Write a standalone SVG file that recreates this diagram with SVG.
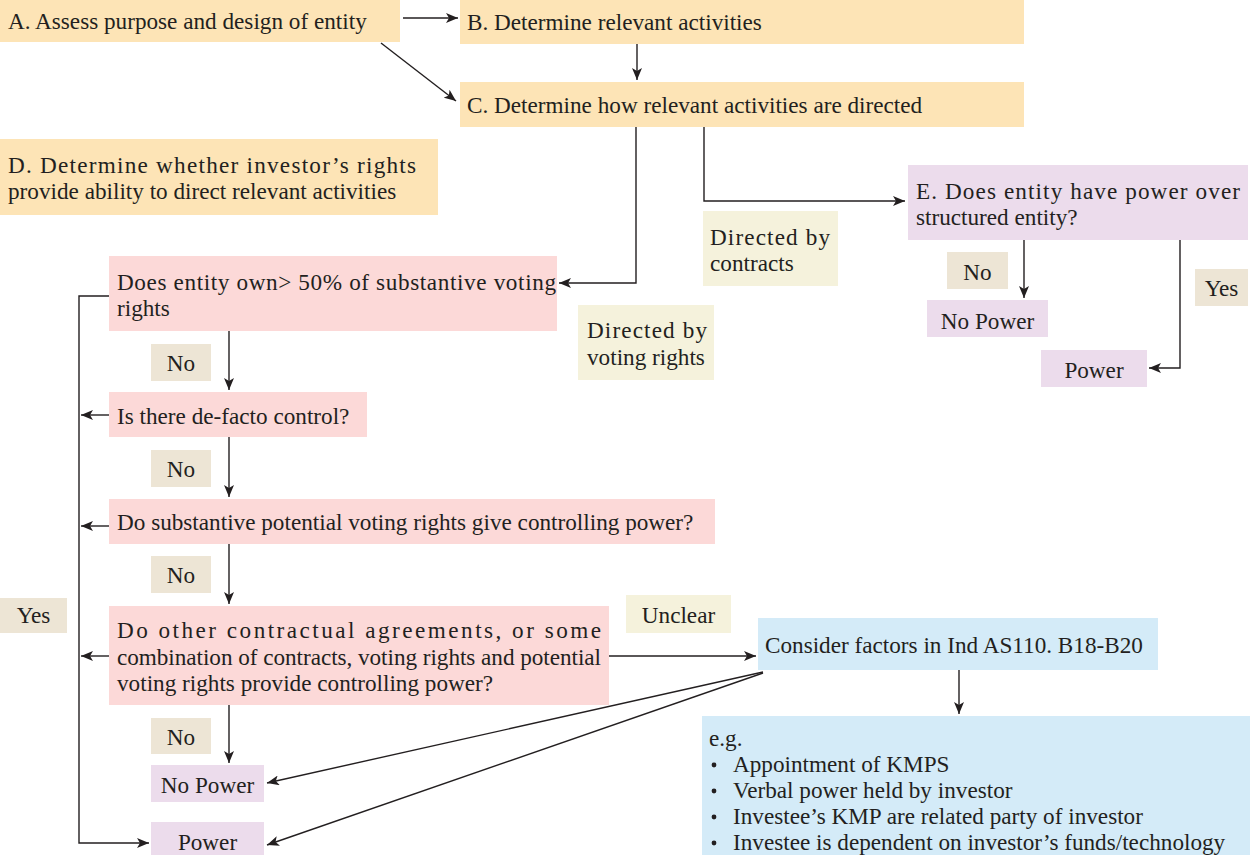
<svg xmlns="http://www.w3.org/2000/svg" width="1250" height="855" viewBox="0 0 1250 855">
<defs>
<marker id="ah" viewBox="0 0 12 10" refX="12" refY="5" markerWidth="12" markerHeight="10" markerUnits="userSpaceOnUse" orient="auto">
<path d="M0,0 L12,5 L0,10 L3,5 z" fill="#231f20"/>
</marker>
<style>
text{font-family:"Liberation Serif",serif;font-size:23.2px;fill:#231f20}
.or{fill:#fde4b6}.pk{fill:#fcd9d8}.pu{fill:#ecdcec}.yl{fill:#f5f2dc}.bg{fill:#ede5d5}.bl{fill:#d4ebf8}
.c path,.c line,.c polyline{stroke:#231f20;stroke-width:1.4;fill:none;marker-end:url(#ah)}
</style>
</defs>
<rect width="1250" height="855" fill="#fff"/>
<g id="nodeA"><rect class="or" x="0" y="0" width="400" height="42"/><text x="8" y="29">A. Assess purpose and design of entity</text></g>
<g id="nodeB"><rect class="or" x="460" y="0" width="564" height="44"/><text x="467" y="30">B. Determine relevant activities</text></g>
<g id="nodeC"><rect class="or" x="460" y="82" width="564" height="45"/><text x="467" y="113">C. Determine how relevant activities are directed</text></g>
<g id="nodeD"><rect class="or" x="0" y="139" width="438" height="76"/><text x="8" y="173" textLength="408" lengthAdjust="spacing">D. Determine whether investor’s rights</text><text x="8" y="199">provide ability to direct relevant activities</text></g>
<g id="nodeE"><rect class="pu" x="908" y="165" width="340" height="75"/><text x="916" y="199" textLength="324" lengthAdjust="spacing">E. Does entity have power over</text><text x="916" y="225">structured entity?</text></g>
<g id="lblContracts"><rect class="yl" x="703" y="211" width="135" height="75"/><text x="710" y="245" textLength="120" lengthAdjust="spacing">Directed by</text><text x="710" y="271">contracts</text></g>
<g id="lblVoting"><rect class="yl" x="578" y="305" width="136" height="75"/><text x="587" y="338" textLength="120" lengthAdjust="spacing">Directed by</text><text x="587" y="365">voting rights</text></g>
<g id="lblENo"><rect class="bg" x="947" y="252" width="61" height="37"/><text x="977.5" y="280" text-anchor="middle">No</text></g>
<g id="nodeENoPower"><rect class="pu" x="927" y="300" width="121" height="37"/><text x="987.5" y="329" text-anchor="middle">No Power</text></g>
<g id="lblEYes"><rect class="bg" x="1195" y="269" width="53" height="37"/><text x="1221.5" y="296" text-anchor="middle">Yes</text></g>
<g id="nodeEPower"><rect class="pu" x="1041" y="350" width="106" height="37"/><text x="1094" y="378" text-anchor="middle">Power</text></g>
<g id="node1"><rect class="pk" x="109" y="256" width="448" height="75"/><text x="117" y="290" textLength="439" lengthAdjust="spacing">Does entity own&gt; 50% of substantive voting</text><text x="117" y="316">rights</text></g>
<g id="lblNo1"><rect class="bg" x="151" y="344" width="60" height="37"/><text x="181" y="371" text-anchor="middle">No</text></g>
<g id="node2"><rect class="pk" x="109" y="392" width="258" height="45"/><text x="117" y="424">Is there de-facto control?</text></g>
<g id="lblNo2"><rect class="bg" x="151" y="450" width="60" height="37"/><text x="181" y="477" text-anchor="middle">No</text></g>
<g id="node3"><rect class="pk" x="109" y="499" width="606" height="45"/><text x="117" y="530">Do substantive potential voting rights give controlling power?</text></g>
<g id="lblNo3"><rect class="bg" x="151" y="556" width="60" height="37"/><text x="181" y="583" text-anchor="middle">No</text></g>
<g id="lblYes"><rect class="bg" x="0" y="598" width="67" height="35"/><text x="33.5" y="623" text-anchor="middle">Yes</text></g>
<g id="node4"><rect class="pk" x="109" y="606" width="500" height="99"/><text x="117" y="638" textLength="484" lengthAdjust="spacing">Do other contractual agreements, or some</text><text x="117" y="665" textLength="484" lengthAdjust="spacing">combination of contracts, voting rights and potential</text><text x="117" y="691">voting rights provide controlling power?</text></g>
<g id="lblUnclear"><rect class="yl" x="626" y="595" width="105" height="38"/><text x="678.5" y="623" text-anchor="middle">Unclear</text></g>
<g id="nodeConsider"><rect class="bl" x="758" y="618" width="400" height="52"/><text x="765" y="653">Consider factors in Ind AS110. B18-B20</text></g>
<g id="nodeEg"><rect class="bl" x="702" y="716" width="548" height="139"/><text x="709" y="746">e.g.</text>
<circle cx="714" cy="765" r="2.4" fill="#231f20"/><text x="733" y="772">Appointment of KMPS</text>
<circle cx="714" cy="791" r="2.4" fill="#231f20"/><text x="733" y="798">Verbal power held by investor</text>
<circle cx="714" cy="817" r="2.4" fill="#231f20"/><text x="733" y="824">Investee’s KMP are related party of investor</text>
<circle cx="714" cy="843" r="2.4" fill="#231f20"/><text x="733" y="850">Investee is dependent on investor’s funds/technology</text></g>
<g id="lblNo4"><rect class="bg" x="151" y="718" width="60" height="36"/><text x="181" y="745" text-anchor="middle">No</text></g>
<g id="nodeNoPower"><rect class="pu" x="151" y="765" width="113" height="37"/><text x="207.5" y="793" text-anchor="middle">No Power</text></g>
<g id="nodePower"><rect class="pu" x="151" y="822" width="113" height="33"/><text x="207.5" y="850" text-anchor="middle">Power</text></g>
<g id="connectors" class="c">
<line x1="403" y1="18" x2="458" y2="18"/>
<line x1="381" y1="43" x2="456" y2="101"/>
<line x1="637" y1="44" x2="637" y2="80"/>
<polyline points="636,127 636,283 559,283"/>
<polyline points="704,127 704,201 905,201"/>
<line x1="1024" y1="240" x2="1024" y2="298"/>
<polyline points="1180,240 1180,368 1149,368"/>
<line x1="229" y1="331" x2="229" y2="390"/>
<line x1="229" y1="437" x2="229" y2="497"/>
<line x1="229" y1="544" x2="229" y2="604"/>
<line x1="229" y1="705" x2="229" y2="763"/>
<polyline points="109,296 79,296 79,843 149,843" />
<line x1="109" y1="415" x2="81" y2="415"/>
<line x1="109" y1="526" x2="81" y2="526"/>
<line x1="109" y1="656" x2="81" y2="656"/>
<line x1="609" y1="656" x2="756" y2="656"/>
<line x1="959" y1="670" x2="959" y2="714"/>
<line x1="763" y1="672" x2="267" y2="783"/>
<line x1="763" y1="673" x2="267" y2="845"/>
</g>
</svg>
